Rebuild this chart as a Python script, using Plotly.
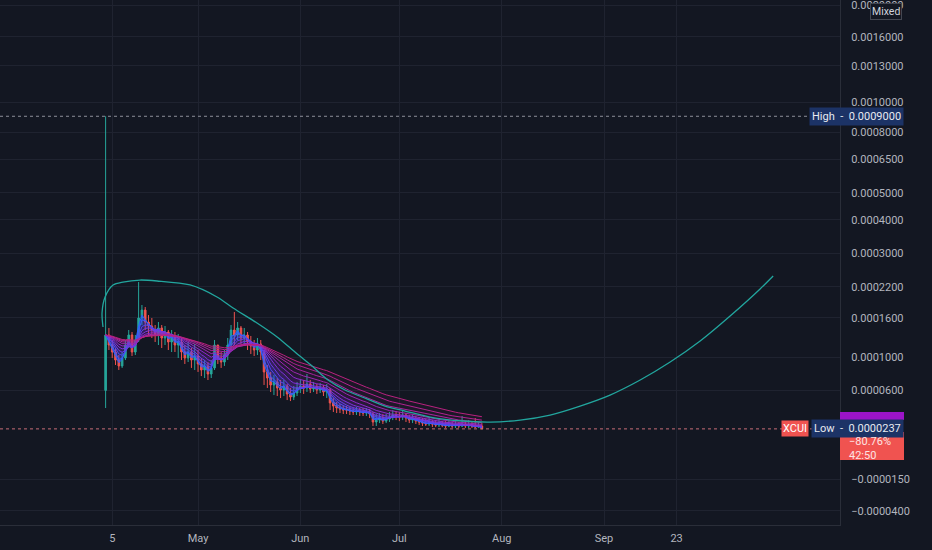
import numpy as np
import pandas as pd
import plotly.graph_objects as go

# daily candles starting 2024-04-03, prices in units of 1e-7
start = "2024-04-03"
first_open = 600
close_e7 = [1317, 1167, 1068, 960, 884, 987, 1167, 1317, 1068, 1241, 1596, 1738, 1527, 1461,
            1396, 1317, 1428, 1271, 1364, 1211, 1302, 1167, 1211, 1068, 987, 1068, 960, 1014,
            909, 834, 884, 785, 859, 1167, 987, 934, 1027, 1167, 1396, 1317, 1428, 1271, 1317,
            1211, 1153, 1096, 1182, 1068, 810, 738, 659, 693, 626, 604, 648, 562, 531, 572, 626,
            648, 626, 670, 615, 637, 604, 626, 583, 604, 471, 441, 422, 413, 403, 403, 394, 385,
            394, 385, 375, 385, 366, 295, 312, 330, 303, 321, 339, 357, 348,
            339, 357, 330, 312, 321, 303, 295, 286, 278, 286, 278, 269, 278, 269, 261, 269, 261,
            269, 261, 278, 261, 269, 261, 252, 261, 237]
high_e7 = [9000, 1428, 1241, 1124, 1027, 1068, 1241, 1396, 1364, 1317, 2302, 1832, 1794, 1648,
           1596, 1477, 1527, 1477, 1461, 1396, 1396, 1364, 1333, 1271, 1167, 1211, 1124, 1182,
           1096, 987, 960, 934, 960, 1241, 1167, 1068, 1096, 1271, 1477, 1702, 1527, 1461, 1428,
           1364, 1302, 1241, 1271, 1241, 1096, 896, 810, 773, 738, 715, 715, 670, 626, 648, 693,
           715, 715, 785, 715, 693, 670, 681, 659, 670, 626, 520, 480, 461, 451, 441, 432, 422,
           432, 422, 422, 422, 413, 385, 366, 375, 366, 366, 385, 403, 394,
           385, 403, 375, 357, 357, 348, 339, 330, 321, 330, 312, 312, 330, 303, 303, 312, 295,
           303, 295, 348, 303, 312, 295, 330, 295, 286]
low_e7 = [422, 1096, 987, 896, 834, 859, 960, 1124, 1014, 1027, 1211, 1477, 1396, 1317,
          1271, 1211, 1167, 1124, 1167, 1096, 1068, 1068, 987, 960, 909, 934, 859, 834,
          810, 761, 738, 715, 738, 834, 909, 859, 884, 960, 1096, 1167, 1241, 1182, 1167,
          1096, 1041, 1014, 1027, 960, 659, 626, 583, 551, 541, 520, 541, 500, 490, 500, 541,
          572, 562, 583, 572, 583, 562, 572, 541, 520, 403, 385, 375, 375, 366, 366, 357, 357,
          357, 348, 348, 348, 330, 261, 261, 286, 278, 286, 295, 312, 312,
          303, 312, 295, 286, 286, 278, 269, 261, 261, 261, 252, 252, 252, 252, 244, 252, 244,
          244, 244, 252, 244, 244, 244, 244, 244, 237]

# cup drawing points (price in 1e-7)
curve_dates = ["2024-04-02 05:00", "2024-04-01 22:00", "2024-04-02 20:00", "2024-04-05 06:00",
               "2024-04-08 06:00", "2024-04-13 10:00", "2024-04-18 14:00", "2024-04-28 14:00",
               "2024-05-06 18:00", "2024-05-11 15:00", "2024-05-18 21:00", "2024-05-24 23:00",
               "2024-05-30 17:00", "2024-06-04 13:00", "2024-06-09 09:00", "2024-06-14 13:00",
               "2024-06-19 17:00", "2024-06-26 16:00", "2024-07-02 18:00", "2024-07-10 07:00",
               "2024-07-20 07:00", "2024-07-28 12:00", "2024-08-06 14:00", "2024-08-15 16:00",
               "2024-08-24 18:00", "2024-09-02 20:00", "2024-09-11 23:00", "2024-09-21 01:00",
               "2024-09-30 03:00", "2024-10-09 05:00", "2024-10-18 07:00", "2024-10-22 06:00"]
curve_e7 = [1444, 1684, 1988, 2237, 2302, 2346, 2325, 2237, 1988, 1775, 1511, 1287, 1054, 883,
            715, 604, 531, 441, 394, 339, 304, 295, 312, 357, 441, 551, 715, 934, 1226, 1631,
            2152, 2438]

high_price = 0.0009
low_price = 0.0000237

y_ticks = [0.002, 0.0016, 0.0013, 0.001, 0.0008, 0.00065, 0.0005, 0.0004, 0.0003,
           0.00022, 0.00016, 0.0001, 0.00006, -0.000015, -0.00004]
y_labels = ["0.0020000", "0.0016000", "0.0013000", "0.0010000", "0.0008000", "0.0006500",
            "0.0005000", "0.0004000", "0.0003000", "0.0002200", "0.0001600", "0.0001000",
            "0.0000600", "\u22120.0000150", "\u22120.0000400"]
x_ticks = ["2024-04-05", "2024-05-01", "2024-06-01", "2024-07-01", "2024-08-01",
           "2024-09-01", "2024-09-23"]
x_labels = ["5", "May", "Jun", "Jul", "Aug", "Sep", "23"]

ma_spans = [2, 3, 5, 7, 10, 14, 19, 25, 32, 40]
ma_colors = ["#2962ff", "#3d5afe", "#5146f0", "#6a3de8", "#7e33db",
             "#8e2bcc", "#9c27b0", "#a8259f", "#b02390", "#b8217f"]
ma_alpha = [0.0, 0.45, 0.4, 0.35, 0.3, 0.22, 0.15, 0.1, 0.08, 0.06]

BG = "#131722"
GRID = "#1f2330"
TEXT = "#b2b5be"


# price scale of the chart: log with offset, linear below zero
C = 0.0001
def scale(v):
    v = np.asarray(v, dtype=float)
    return np.where(v >= 0, np.log10(np.abs(v) + C), np.log10(C) + v * 3630)


close = np.array(close_e7) * 1e-7
high = np.array(high_e7) * 1e-7
low = np.array(low_e7) * 1e-7
opens = np.concatenate([[first_open * 1e-7], close[:-1]])
dates = pd.date_range(start, periods=len(close), freq="D")
curve = np.array(curve_e7) * 1e-7

fig = go.Figure()

# MA ribbon
for i, (span, col, a) in enumerate(zip(ma_spans, ma_colors, ma_alpha)):
    ema = pd.Series(close).ewm(span=span, adjust=False).mean()
    r, g, b = int(col[1:3], 16), int(col[3:5], 16), int(col[5:7], 16)
    fig.add_trace(go.Scatter(
        x=dates, y=scale(ema), mode="lines",
        line=dict(color=col, width=1),
        fill="tonexty" if i > 0 else None,
        fillcolor=f"rgba({r},{g},{b},{a})",
        hoverinfo="skip"
    ))

fig.add_trace(go.Candlestick(
    x=dates, open=scale(opens), high=scale(high), low=scale(low), close=scale(close),
    increasing=dict(line=dict(color="#26a69a", width=1), fillcolor="#26a69a"),
    decreasing=dict(line=dict(color="#ef5350", width=1), fillcolor="#ef5350"),
    whiskerwidth=0
))

fig.add_trace(go.Scatter(
    x=curve_dates, y=scale(curve), mode="lines",
    line=dict(color="#22a69e", width=1.3, shape="spline", smoothing=0.8),
    hoverinfo="skip"
))

shapes = [
    dict(type="line", xref="paper", x0=0, x1=1, yref="y",
         y0=float(scale(high_price)), y1=float(scale(high_price)),
         line=dict(color="#8d909a", width=1, dash="dot")),
    dict(type="line", xref="paper", x0=0, x1=1, yref="y",
         y0=float(scale(low_price)), y1=float(scale(low_price)),
         line=dict(color="#c76d77", width=1, dash="dot")),
    # purple ma label and red countdown box on the price scale
    dict(type="rect", xref="paper", yref="paper", x0=1.0, x1=904 / 840,
         y0=1 - 420 / 525, y1=1 - 412 / 525, fillcolor="#9c14c8", line=dict(width=0)),
    dict(type="rect", xref="paper", yref="paper", x0=1.0, x1=904 / 840,
         y0=1 - 460 / 525, y1=1 - 432 / 525, fillcolor="#f05350", line=dict(width=0)),
]

annotations = [
    dict(xref="paper", yref="paper", x=886 / 840, y=1 - 11.5 / 525, text="Mixed",
         xanchor="center", yanchor="middle",
         showarrow=False, font=dict(size=10.5, color="#d1d4dc"), bgcolor=BG,
         bordercolor="#434651", borderwidth=1, borderpad=1),
    dict(xref="paper", yref="y", x=904 / 840, y=float(scale(high_price)), xanchor="right",
         yanchor="middle",
         text="High  -  0.0009000", showarrow=False, font=dict(size=11, color="#e8eaf0"),
         bgcolor="#1c3366", borderpad=2),
    dict(xref="paper", yref="y", x=781 / 840, y=float(scale(low_price)), xanchor="left",
         yanchor="middle",
         text="XCUI", showarrow=False, font=dict(size=11, color="#ffffff"),
         bgcolor="#f05350", borderpad=1),
    dict(xref="paper", yref="y", x=904 / 840, y=float(scale(low_price)), xanchor="right",
         yanchor="middle",
         text="Low  -  0.0000237", showarrow=False, font=dict(size=11, color="#e8eaf0"),
         bgcolor="#1c3366", borderpad=2),
    dict(xref="paper", yref="paper", x=847 / 840, y=1 - 448 / 525, xanchor="left",
         yanchor="middle",
         text="\u221280.76%<br>42:50", align="left", showarrow=False,
         font=dict(size=11, color="#fde3e3")),
]

fig.update_layout(
    width=932, height=550,
    margin=dict(l=0, r=92, t=0, b=25),
    paper_bgcolor=BG, plot_bgcolor=BG,
    showlegend=False,
    font=dict(family="Roboto", size=11, color=TEXT),
    shapes=shapes,
    annotations=annotations,
    xaxis=dict(
        type="date", range=["2024-03-02", "2024-11-11 12:00"],
        tickvals=x_ticks, ticktext=x_labels,
        showgrid=True, gridcolor=GRID, zeroline=False,
        showline=True, linecolor="#2a2e39",
        ticks="", ticklabelstandoff=3,
        rangeslider=dict(visible=False),
    ),
    yaxis=dict(
        side="right", range=[-4.1867, -2.6624],
        tickvals=scale(y_ticks), ticktext=y_labels,
        showgrid=True, gridcolor=GRID, zeroline=False,
        showline=True, linecolor="#2a2e39",
        ticks="", ticklabelstandoff=8, ticklabeloverflow="allow",
    ),
)

fig.write_html("out.html", config={"displayModeBar": False},
               post_script="document.body.style.margin='0px';")
